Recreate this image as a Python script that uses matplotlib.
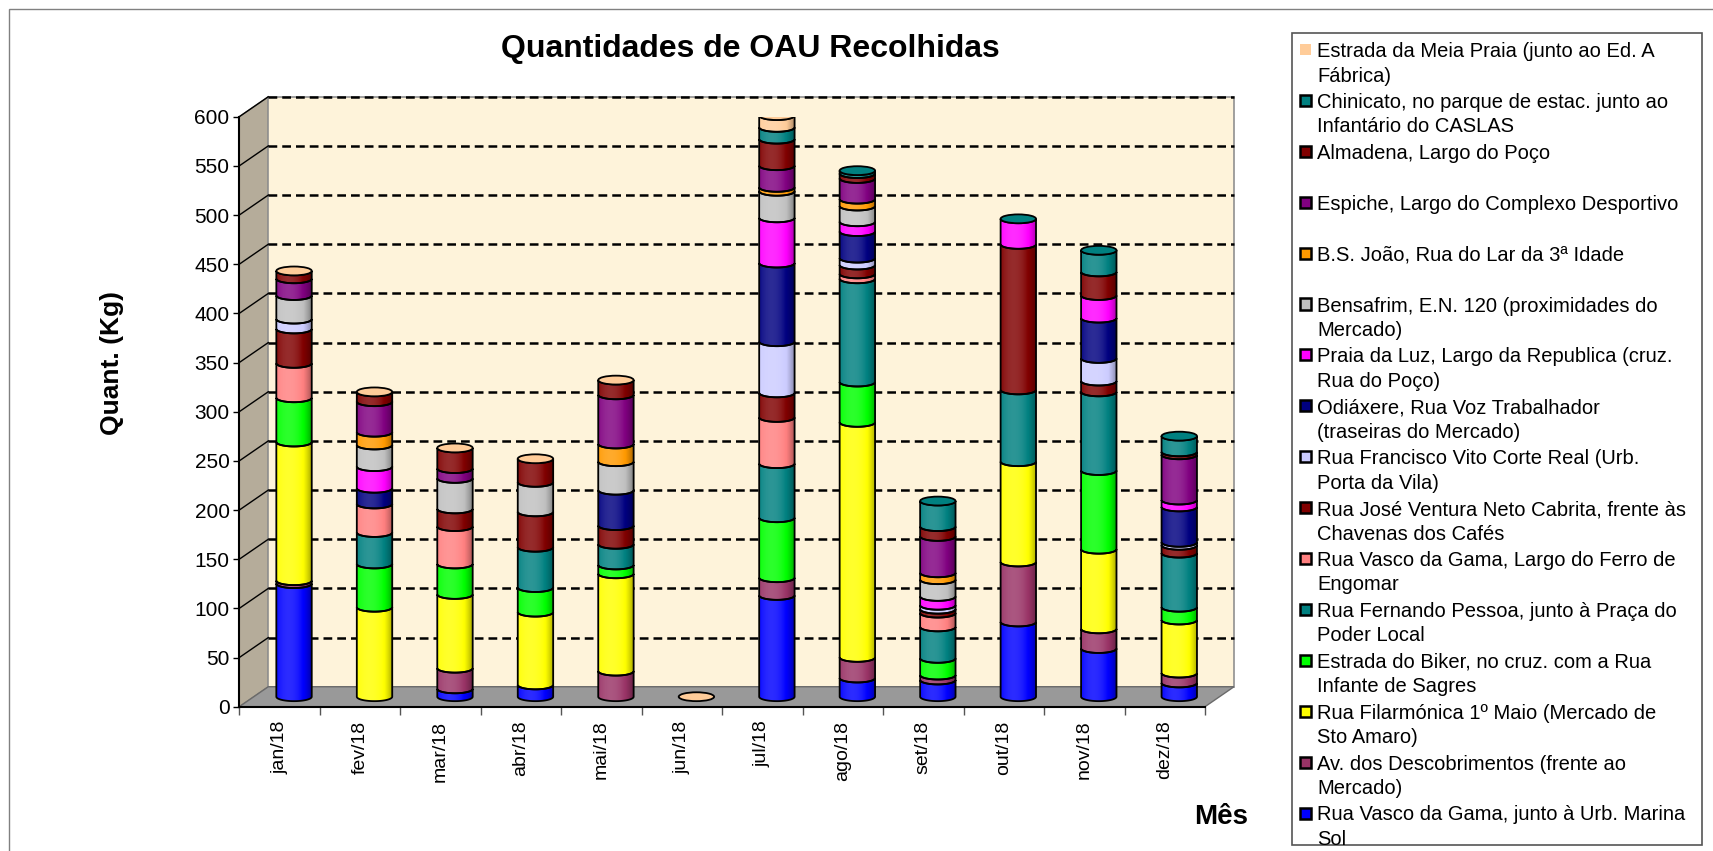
import numpy as np
import matplotlib
matplotlib.use("Agg")
import matplotlib.pyplot as plt
from matplotlib.patches import Polygon, Ellipse, Rectangle

plt.rcParams['font.family'] = ['Liberation Sans', 'DejaVu Sans']

nan = np.nan
months = ["jan/18", "fev/18", "mar/18", "abr/18", "mai/18", "jun/18",
          "jul/18", "ago/18", "set/18", "out/18", "nov/18", "dez/18"]

# series, bottom of the stack first (kg)
marina_sol = [115, 0, 8, 12, 0, 0, 103, 19, 17, 76, 49, 14]
av_descobrimentos = [3, 0, 21, 0, 26, 0, 18, 21, 5, 61, 20, 10]
filarmonica = [141, 91, 75, 74, 99, 0, 0, 239, 0, 102, 81, 54]
biker = [45, 44, 31, 25, 9, 0, 61, 41, 17, 0, 80, 13]
fernando_pessoa = [0, 32, 0, 41, 21, 0, 55, 105, 32, 73, 80, 55]
ferro_engomar = [35, 29, 38, 0, 0, 0, 47, 5, 14, 0, 0, 0]
jose_ventura = [35, 0, 18, 36, 19, 0, 25, 9, 4, 148, 11, 8]
francisco_vito = [10, 0, 0, 0, 0, 0, 52, 7, 4, 0, 23, 3]
odiaxere = [0, 16, 0, 0, 36, 0, 80, 27, 0, 0, 41, 36]
praia_luz = [0, 22, 0, 0, 0, 0, 46, 10, 9, 26, 23, 7]
bensafrim = [24, 22, 31, 30, 29, 0, 27, 16, 17, 0, 0, 0]
bs_joao = [0, 13, 0, 0, 18, 0, 4, 7, 7, 0, 0, 0]
espiche = [17, 31, 10, 0, 50, 0, 22, 21, 37, 0, 0, 46]
almadena = [8, 10, 21, 24, 15, 0, 27, 5, 10, 0, 24, 3]
chinicato = [0, 0, 0, 0, 0, 0, 12, 3, 26, 0, 22, 16]
meia_praia = [0, 0, 0, 0, 0, 0, 12, nan, nan, nan, nan, nan]

series = [marina_sol, av_descobrimentos, filarmonica, biker, fernando_pessoa,
          ferro_engomar, jose_ventura, francisco_vito, odiaxere, praia_luz,
          bensafrim, bs_joao, espiche, almadena, chinicato, meia_praia]

labels = [
    "Rua Vasco da Gama, junto à Urb. Marina\nSol",
    "Av. dos Descobrimentos (frente ao\nMercado)",
    "Rua Filarmónica 1º Maio (Mercado de\nSto Amaro)",
    "Estrada do Biker, no cruz. com a Rua\nInfante de Sagres",
    "Rua Fernando Pessoa, junto à Praça do\nPoder Local",
    "Rua Vasco da Gama, Largo do Ferro de\nEngomar",
    "Rua José Ventura Neto Cabrita, frente às\nChavenas dos Cafés",
    "Rua Francisco Vito Corte Real (Urb.\nPorta da Vila)",
    "Odiáxere, Rua Voz Trabalhador\n(traseiras do Mercado)",
    "Praia da Luz, Largo da Republica (cruz.\nRua do Poço)",
    "Bensafrim, E.N. 120 (proximidades do\nMercado)",
    "B.S. João, Rua do Lar da 3ª Idade",
    "Espiche, Largo do Complexo Desportivo",
    "Almadena, Largo do Poço",
    "Chinicato, no parque de estac. junto ao\nInfantário do CASLAS",
    "Estrada da Meia Praia (junto ao Ed. A\nFábrica)",
]

colors = ["#0000FF", "#993366", "#FFFF00", "#00FF00", "#008080", "#FF8080",
          "#800000", "#CCCCFF", "#000080", "#FF00FF", "#C0C0C0", "#FF9900",
          "#800080", "#800000", "#008080", "#FFCC99"]

W, H = 1713, 851
fig = plt.figure(figsize=(W / 100, H / 100), dpi=100)


def fx(px):
    return px / W


def fy(py):
    return 1 - py / H


# front plane of the plot
x0, x1, y0, y1 = 239.3, 1205, 706.7, 116.7
ax = fig.add_axes([fx(x0), fy(y0), fx(x1) - fx(x0), fy(y1) - fy(y0)])
ax.set_facecolor("none")
n = len(months)
ymax = 600
dxc = 29 / ((x1 - x0) / n)      # depth offset in category units
dyv = 20.3                       # depth offset in value units
base = dyv / 2
hw = 0.44 / 2
ry = 4.5

# walls and floor
ax.add_patch(Polygon([(0, 0), (dxc, dyv), (dxc, ymax + dyv), (0, ymax)],
                     closed=True, fc="#B5AC9A", ec="#7f7a70", lw=1, zorder=0, clip_on=False))
ax.add_patch(Rectangle((dxc, dyv), n, ymax, fc="#FEF3DA", ec="#909090", lw=1.2,
                       zorder=0, clip_on=False))
ax.add_patch(Polygon([(0, 0), (n, 0), (n + dxc, dyv), (dxc, dyv)], closed=True,
                     fc="#999999", ec="#6a6a6a", lw=1, zorder=1, clip_on=False))
for v in range(50, ymax + 1, 50):
    ax.plot([dxc, n + dxc], [v + dyv, v + dyv], color="black", lw=1.8,
            ls=(0, (3.5, 2)), zorder=1, clip_on=False)
    ax.plot([0, dxc], [v, v + dyv], color="black", lw=1.0, zorder=1, clip_on=False)

# cylinder shading profile
t = np.linspace(0, 1, 120)
s = 0.5 - 3.0 * (t - 0.35) ** 2
shade = np.zeros((1, len(t), 4))
shade[0, s > 0, :3] = 1
shade[0, :, 3] = np.where(s > 0, 0.35 * s, np.clip(-0.45 * s, 0, 0.45))

theta = np.linspace(np.pi, 2 * np.pi, 40)


def lower_arc(cx, yc):
    return cx + hw * np.cos(theta), yc + ry * np.sin(theta)


data = np.array(series, dtype=float)
for i in range(n):
    cx = i + 0.5 + dxc / 2
    cum = base
    for k in range(len(series)):
        v = data[k, i]
        if np.isnan(v) or v <= 0:
            continue
        xa, ya = lower_arc(cx, cum)
        xb, yb = lower_arc(cx, cum + v)
        pts = np.vstack([np.column_stack([xa, ya]), np.column_stack([xb, yb])[::-1]])
        ax.add_patch(Polygon(pts, closed=True, fc=colors[k], ec="none", zorder=3))
        ax.add_patch(Polygon(pts, closed=True, fc="none", ec="black", lw=1.3, zorder=5))
        cum += v
    if cum > base:
        xa, ya = lower_arc(cx, base)
        xb, yb = lower_arc(cx, cum)
        outline = Polygon(np.vstack([np.column_stack([xa, ya]),
                                     np.column_stack([xb, yb])[::-1]]),
                          closed=True, transform=ax.transData)
        im = ax.imshow(shade, extent=[cx - hw, cx + hw, base - ry, cum + ry],
                       aspect="auto", interpolation="bilinear", zorder=4)
        im.set_clip_path(outline)
    top_k = max(k for k in range(len(series)) if not np.isnan(data[k, i]))
    ax.add_patch(Ellipse((cx, cum), 2 * hw, 2 * ry, fc=colors[top_k], ec="black",
                         lw=1.3, zorder=6))

ax.set_xlim(0, n)
ax.set_ylim(0, ymax)
for side in ["top", "right"]:
    ax.spines[side].set_visible(False)
ax.spines["left"].set_linewidth(1.5)
ax.spines["bottom"].set_linewidth(1.5)
ax.spines["left"].set_zorder(2)
ax.spines["bottom"].set_zorder(2)
ax.set_yticks(range(0, ymax + 1, 50))
ax.tick_params(axis="y", length=4, width=1, pad=3, labelsize=15)
ax.set_xticks(range(n + 1))
ax.set_xticklabels([])
ax.tick_params(axis="x", which="major", length=6, width=1, color="#555555")
ax.set_xticks(np.arange(n) + 0.5, minor=True)
ax.set_xticklabels(months, minor=True, rotation=90, fontsize=14)
ax.tick_params(axis="x", which="minor", length=0, pad=10)

# titles
fig.text(fx(750), fy(49), "Quantidades de OAU Recolhidas", ha="center", va="center",
         fontsize=23, fontweight="bold")
fig.text(fx(112), fy(363), "Quant. (Kg)", ha="center", va="center", rotation=90,
         fontsize=19, fontweight="bold")
fig.text(fx(1221), fy(817), "Mês", ha="center", va="center", fontsize=20,
         fontweight="bold")

# legend (top series first)
fig.add_artist(Rectangle((fx(1292), fy(845)), fx(1702) - fx(1292), fy(33) - fy(845),
                         transform=fig.transFigure, fc="white", ec="#555555", lw=1.2))
for j, k in enumerate(range(len(series) - 1, -1, -1)):
    yl = 49.5 + j * 50.9
    ec = "none" if k == len(series) - 1 else "black"
    fig.add_artist(Rectangle((fx(1300), fy(yl + 5.5)), fx(11), fy(0) - fy(11),
                             transform=fig.transFigure, fc=colors[k], ec=ec, lw=1.8))
    for m, line in enumerate(labels[k].split("\n")):
        fig.text(fx(1317), fy(yl + m * 24.5), line, ha="left", va="center_baseline",
                 fontsize=14.5)

# outer chart border
fig.add_artist(Rectangle((fx(9), fy(H + 20)), fx(W + 20), fy(9) - fy(H + 20),
                         transform=fig.transFigure, fc="none", ec="#808080", lw=1))

fig.savefig("out.png", dpi=100)
